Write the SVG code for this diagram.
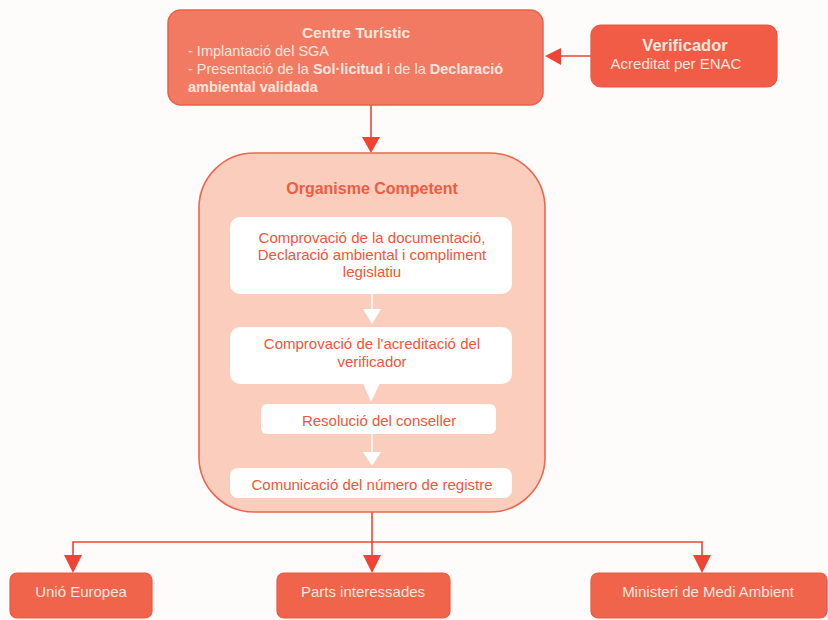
<svg xmlns="http://www.w3.org/2000/svg" width="828" height="620" viewBox="0 0 828 620">
<style>
text{font-family:"Liberation Sans",Arial,sans-serif}
.light{fill:#fde6dd}
.red{fill:#f1553b}
.wline{stroke:#fff;stroke-width:1.5;fill:none}
.wtri{fill:#fff}
.conn{stroke:#ee4434;stroke-width:1.6;fill:none}
.head{fill:#ee4434}
.inner{fill:#fff}
.bot{fill:#f0644c;stroke:#ec5740;stroke-width:1.2}
</style>
<defs>
<clipPath id="c4"><rect x="230" y="468" width="282" height="30" rx="8"/></clipPath>
</defs>
<rect width="828" height="620" fill="#fefcfb"/>
<g id="connectors">
<line class="conn" x1="591" y1="56" x2="558" y2="56"/>
<polygon class="head" points="545,56 561,48 561,65"/>
<line class="conn" x1="371" y1="105" x2="371" y2="140"/>
<polygon class="head" points="371,153 362,137 380,137"/>
<line class="conn" x1="372" y1="512" x2="372" y2="558"/>
<polyline class="conn" points="73,558 73,542 702,542 702,558"/>
<polygon class="head" points="73,573 64,555 82,555"/>
<polygon class="head" points="372,573 363,555 381,555"/>
<polygon class="head" points="702,573 693,555 711,555"/>
</g>
<g id="centre">
<rect x="168" y="10" width="375" height="95" rx="13" fill="#f37a62" stroke="#ee5e48" stroke-width="1.5"/>
<text class="light" x="356" y="38" font-size="15.5" font-weight="bold" text-anchor="middle">Centre Turístic</text>
<text class="light" x="188" y="56" font-size="14.5">- Implantació del SGA</text>
<text class="light" x="188" y="74" font-size="14.5">- Presentació de la <tspan font-weight="bold">Sol·licitud</tspan> i de la <tspan font-weight="bold">Declaració</tspan></text>
<text class="light" x="188" y="92" font-size="14.5" font-weight="bold">ambiental validada</text>
</g>
<g id="verificador">
<rect x="591" y="25" width="186" height="62" rx="10" fill="#f05c46" stroke="#ec5440" stroke-width="1.2"/>
<text class="light" x="685" y="51" font-size="16.5" font-weight="bold" text-anchor="middle">Verificador</text>
<text class="light" x="676" y="69" font-size="15" text-anchor="middle">Acreditat per ENAC</text>
</g>
<g id="organisme">
<rect x="199" y="153" width="346" height="359" rx="55" fill="#fbcdbd" stroke="#ef6650" stroke-width="1.6"/>
<text x="372" y="194" font-size="16" font-weight="bold" text-anchor="middle" fill="#ef5b44">Organisme Competent</text>
</g>
<g id="step1">
<rect class="inner" x="230" y="217" width="282" height="77" rx="10"/>
<text class="red" x="372" y="243" font-size="15" text-anchor="middle">Comprovació de la documentació,</text>
<text class="red" x="372" y="260" font-size="15" text-anchor="middle">Declaració ambiental i compliment</text>
<text class="red" x="372" y="277" font-size="15" text-anchor="middle">legislatiu</text>
</g>
<g id="step2">
<rect class="inner" x="230" y="327" width="282" height="57" rx="10"/>
<text class="red" x="372" y="349" font-size="15" text-anchor="middle">Comprovació de l'acreditació del</text>
<text class="red" x="372" y="367" font-size="15" text-anchor="middle">verificador</text>
</g>
<g id="step3">
<rect class="inner" x="261" y="404" width="235" height="30" rx="6"/>
<text class="red" x="379" y="426" font-size="15" text-anchor="middle">Resolució del conseller</text>
</g>
<g id="step4">
<rect class="inner" x="230" y="468" width="282" height="30" rx="8"/>
<text class="red" x="372" y="490" font-size="15" text-anchor="middle" clip-path="url(#c4)">Comunicació del número de registre</text>
</g>
<g id="inner-connectors">
<line class="wline" x1="372" y1="294" x2="372" y2="312"/>
<polygon class="wtri" points="372,324 363,309 381,309"/>
<polygon class="wtri" points="371,402 363,383 380,383"/>
<line class="wline" x1="372" y1="434" x2="372" y2="455"/>
<polygon class="wtri" points="372,466 363,452 381,452"/>
</g>
<g id="unio">
<rect class="bot" x="10" y="573" width="142" height="45" rx="7"/>
<text class="light" x="81" y="597" font-size="15" text-anchor="middle">Unió Europea</text>
</g>
<g id="parts">
<rect class="bot" x="277" y="573" width="173" height="45" rx="7"/>
<text class="light" x="363" y="597" font-size="15" text-anchor="middle">Parts interessades</text>
</g>
<g id="ministeri">
<rect class="bot" x="591" y="573" width="236" height="45" rx="7"/>
<text class="light" x="708" y="597" font-size="15" text-anchor="middle">Ministeri de Medi Ambient</text>
</g>
</svg>
